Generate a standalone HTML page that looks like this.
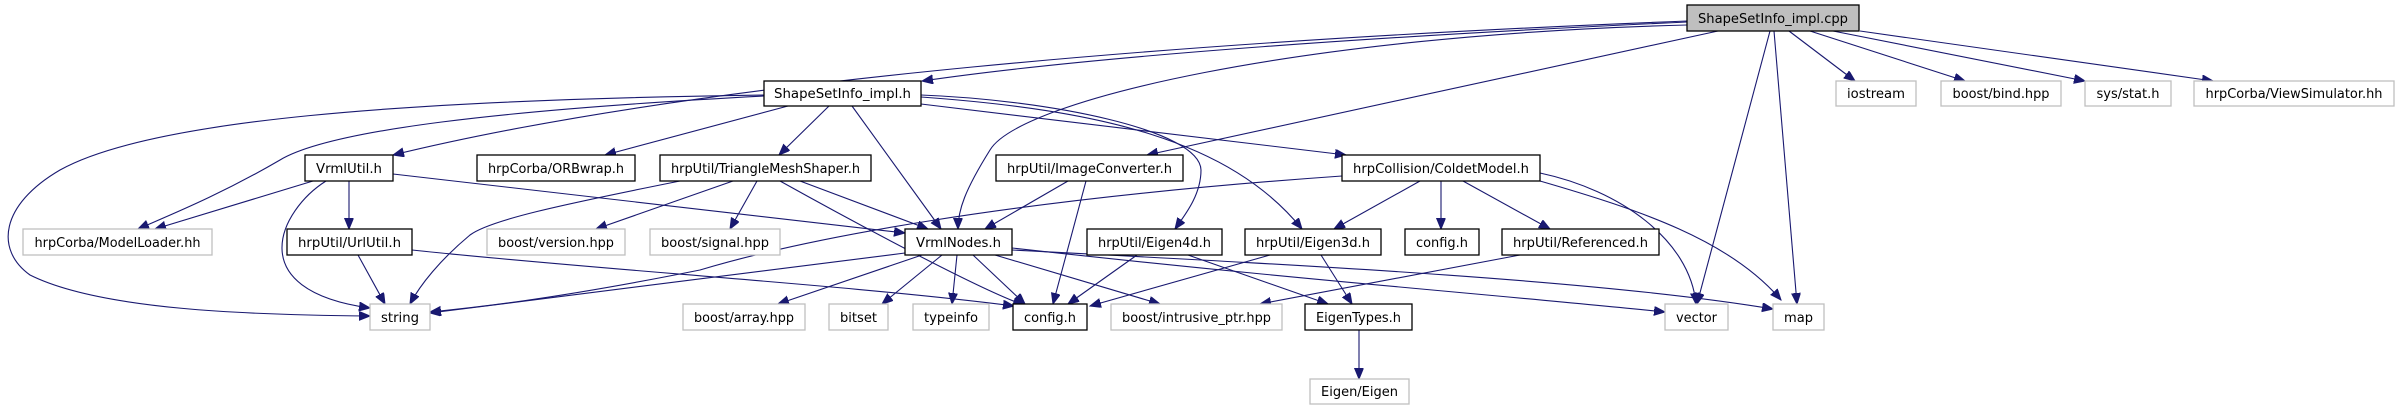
<!DOCTYPE html>
<html><head><meta charset="utf-8"><style>
html,body{margin:0;padding:0;background:#fff;}
svg{display:block;}
text{font-family:"DejaVu Sans","Liberation Sans",sans-serif;font-size:13px;fill:#000;}
.b{fill:#fff;stroke:#000;stroke-width:1.3;}
.g{fill:#fff;stroke:#bfbfbf;stroke-width:1.3;}
.r{fill:#bfbfbf;stroke:#000;stroke-width:1.3;}
path{fill:none;stroke:#191970;stroke-width:1.1;}
</style></head><body>
<svg width="2396" height="411" viewBox="0 0 2396 411" xmlns="http://www.w3.org/2000/svg">
<defs><marker id="a" markerUnits="userSpaceOnUse" markerWidth="12" markerHeight="10" refX="11" refY="4.5" orient="auto"><path d="M0,0 L11,4.5 L0,9 Z" style="fill:#191970;stroke:#191970;stroke-width:1"/></marker></defs>
<g marker-end="url(#a)">
<path d="M1687,22 C1400,35 1100,55 922,81"/>
<path d="M1687,21 C1200,40 700,80 393,155"/>
<path d="M1687,25 C1300,35 1020,100 990,150 C965,190 958,210 958,229"/>
<path d="M1718,31 L1147,155"/>
<path d="M1770,31 L1697,304"/>
<path d="M1774,31 L1797,304"/>
<path d="M1789,31 L1855,81"/>
<path d="M1810,31 L1965,81"/>
<path d="M1833,31 L2085,81"/>
<path d="M1860,31 L2213,81"/>
<path d="M764,95 C400,100 150,120 60,170 C0,205 -5,250 30,275 C100,310 250,315 370,316"/>
<path d="M764,96 C500,110 330,130 280,160 C220,195 170,215 138,229"/>
<path d="M788,106 L605,155"/>
<path d="M829,106 L779,155"/>
<path d="M852,106 L941,229"/>
<path d="M921,95 C1050,100 1200,130 1201,170 C1201,195 1185,215 1175,229"/>
<path d="M921,97 C1100,110 1230,140 1302,229"/>
<path d="M921,104 L1346,155"/>
<path d="M313,181 L155,229"/>
<path d="M326,181 C280,210 240,290 370,308"/>
<path d="M349,181 L349,229"/>
<path d="M393,174 L905,233"/>
<path d="M358,255 L385,304"/>
<path d="M412,250 C600,270 850,285 1014,306"/>
<path d="M680,181 C560,205 490,220 470,235 C440,260 420,285 410,304"/>
<path d="M733,181 L596,229"/>
<path d="M757,181 L730,229"/>
<path d="M800,181 L928,229"/>
<path d="M780,181 C850,220 980,290 1024,305"/>
<path d="M1068,181 L985,229"/>
<path d="M1086,181 L1053,304"/>
<path d="M1342,176 C1000,200 800,240 700,270 C550,300 470,308 430,312"/>
<path d="M1420,181 L1334,229"/>
<path d="M1441,181 L1441,229"/>
<path d="M1463,181 L1550,229"/>
<path d="M1540,173 C1620,190 1690,240 1696,304"/>
<path d="M1540,181 C1640,210 1730,240 1781,300"/>
<path d="M905,253 L430,313"/>
<path d="M922,255 L778,304"/>
<path d="M942,255 L882,304"/>
<path d="M957,255 L952,304"/>
<path d="M973,255 L1025,304"/>
<path d="M995,255 L1160,304"/>
<path d="M1012,248 C1300,280 1500,295 1665,312"/>
<path d="M1012,250 C1300,265 1600,280 1773,309"/>
<path d="M1137,255 L1068,304"/>
<path d="M1188,255 L1328,304"/>
<path d="M1270,255 L1090,306"/>
<path d="M1321,255 L1352,304"/>
<path d="M1520,255 L1260,304"/>
<path d="M1359,330 L1359,379"/>
</g>
<rect class="r" x="1687" y="5" width="172" height="26"/><text x="1773" y="23" text-anchor="middle" textLength="150" lengthAdjust="spacingAndGlyphs">ShapeSetInfo_impl.cpp</text>
<rect class="b" x="764" y="81" width="157" height="25"/><text x="842.5" y="98" text-anchor="middle" textLength="137" lengthAdjust="spacingAndGlyphs">ShapeSetInfo_impl.h</text>
<rect class="g" x="1836" y="81" width="80" height="25"/><text x="1876" y="98" text-anchor="middle" textLength="58" lengthAdjust="spacingAndGlyphs">iostream</text>
<rect class="g" x="1941" y="81" width="120" height="25"/><text x="2001" y="98" text-anchor="middle" textLength="97" lengthAdjust="spacingAndGlyphs">boost/bind.hpp</text>
<rect class="g" x="2085" y="81" width="86" height="25"/><text x="2128" y="98" text-anchor="middle" textLength="63" lengthAdjust="spacingAndGlyphs">sys/stat.h</text>
<rect class="g" x="2194" y="81" width="200" height="25"/><text x="2294" y="98" text-anchor="middle" textLength="177" lengthAdjust="spacingAndGlyphs">hrpCorba/ViewSimulator.hh</text>
<rect class="b" x="305" y="155" width="88" height="26"/><text x="349" y="173" text-anchor="middle" textLength="66" lengthAdjust="spacingAndGlyphs">VrmlUtil.h</text>
<rect class="b" x="477" y="155" width="158" height="26"/><text x="556" y="173" text-anchor="middle" textLength="136" lengthAdjust="spacingAndGlyphs">hrpCorba/ORBwrap.h</text>
<rect class="b" x="660" y="155" width="211" height="26"/><text x="765.5" y="173" text-anchor="middle" textLength="189" lengthAdjust="spacingAndGlyphs">hrpUtil/TriangleMeshShaper.h</text>
<rect class="b" x="996" y="155" width="187" height="26"/><text x="1089.5" y="173" text-anchor="middle" textLength="165" lengthAdjust="spacingAndGlyphs">hrpUtil/ImageConverter.h</text>
<rect class="b" x="1342" y="155" width="198" height="26"/><text x="1441" y="173" text-anchor="middle" textLength="176" lengthAdjust="spacingAndGlyphs">hrpCollision/ColdetModel.h</text>
<rect class="g" x="23" y="229" width="189" height="26"/><text x="117.5" y="247" text-anchor="middle" textLength="166" lengthAdjust="spacingAndGlyphs">hrpCorba/ModelLoader.hh</text>
<rect class="b" x="287" y="229" width="125" height="26"/><text x="349.5" y="247" text-anchor="middle" textLength="103" lengthAdjust="spacingAndGlyphs">hrpUtil/UrlUtil.h</text>
<rect class="g" x="487" y="229" width="138" height="26"/><text x="556" y="247" text-anchor="middle" textLength="116" lengthAdjust="spacingAndGlyphs">boost/version.hpp</text>
<rect class="g" x="650" y="229" width="130" height="26"/><text x="715" y="247" text-anchor="middle" textLength="108" lengthAdjust="spacingAndGlyphs">boost/signal.hpp</text>
<rect class="b" x="905" y="229" width="107" height="26"/><text x="958.5" y="247" text-anchor="middle" textLength="85" lengthAdjust="spacingAndGlyphs">VrmlNodes.h</text>
<rect class="b" x="1087" y="229" width="135" height="26"/><text x="1154.5" y="247" text-anchor="middle" textLength="113" lengthAdjust="spacingAndGlyphs">hrpUtil/Eigen4d.h</text>
<rect class="b" x="1245" y="229" width="136" height="26"/><text x="1313" y="247" text-anchor="middle" textLength="114" lengthAdjust="spacingAndGlyphs">hrpUtil/Eigen3d.h</text>
<rect class="b" x="1405" y="229" width="74" height="26"/><text x="1442" y="247" text-anchor="middle" textLength="52" lengthAdjust="spacingAndGlyphs">config.h</text>
<rect class="b" x="1502" y="229" width="157" height="26"/><text x="1580.5" y="247" text-anchor="middle" textLength="135" lengthAdjust="spacingAndGlyphs">hrpUtil/Referenced.h</text>
<rect class="g" x="370" y="304" width="60" height="26"/><text x="400" y="322" text-anchor="middle" textLength="38" lengthAdjust="spacingAndGlyphs">string</text>
<rect class="g" x="683" y="304" width="122" height="26"/><text x="744" y="322" text-anchor="middle" textLength="100" lengthAdjust="spacingAndGlyphs">boost/array.hpp</text>
<rect class="g" x="829" y="304" width="59" height="26"/><text x="858.5" y="322" text-anchor="middle" textLength="37" lengthAdjust="spacingAndGlyphs">bitset</text>
<rect class="g" x="913" y="304" width="76" height="26"/><text x="951" y="322" text-anchor="middle" textLength="54" lengthAdjust="spacingAndGlyphs">typeinfo</text>
<rect class="b" x="1013" y="304" width="74" height="26"/><text x="1050" y="322" text-anchor="middle" textLength="52" lengthAdjust="spacingAndGlyphs">config.h</text>
<rect class="g" x="1111" y="304" width="171" height="26"/><text x="1196.5" y="322" text-anchor="middle" textLength="149" lengthAdjust="spacingAndGlyphs">boost/intrusive_ptr.hpp</text>
<rect class="b" x="1305" y="304" width="107" height="26"/><text x="1358.5" y="322" text-anchor="middle" textLength="85" lengthAdjust="spacingAndGlyphs">EigenTypes.h</text>
<rect class="g" x="1665" y="304" width="63" height="26"/><text x="1696.5" y="322" text-anchor="middle" textLength="41" lengthAdjust="spacingAndGlyphs">vector</text>
<rect class="g" x="1773" y="304" width="51" height="26"/><text x="1798.5" y="322" text-anchor="middle" textLength="29" lengthAdjust="spacingAndGlyphs">map</text>
<rect class="g" x="1310" y="379" width="99" height="25"/><text x="1359.5" y="396" text-anchor="middle" textLength="77" lengthAdjust="spacingAndGlyphs">Eigen/Eigen</text>
</svg>
</body></html>
